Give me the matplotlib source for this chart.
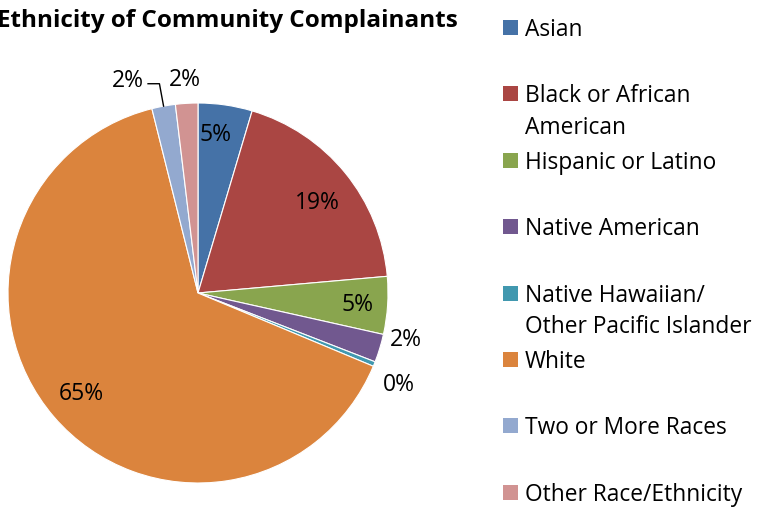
import matplotlib.pyplot as plt
import numpy as np
from matplotlib.patches import Rectangle

plt.rcParams['font.family'] = ['Open Sans', 'DejaVu Sans']

categories = ["Asian", "Black or African\nAmerican", "Hispanic or Latino",
              "Native American", "Native Hawaiian/\nOther Pacific Islander",
              "White", "Two or More Races", "Other Race/Ethnicity"]
shares = [4.6, 19.0, 4.9, 2.4, 0.4, 64.8, 2.0, 1.9]
pct_labels = ["5%", "19%", "5%", "2%", "0%", "65%", "2%", "2%"]
colors = ["#4572A7", "#AA4643", "#89A54E", "#71588F", "#4198AF",
          "#DB843D", "#93A9CF", "#D19392"]

# label distance from centre (in radii) and angular nudge (deg, clockwise)
label_dist = [0.84, 0.79, 0.84, 1.12, 1.16, 0.81, 1.21, 1.13]
label_nudge = [-2, 2, 0, -4.5, 2.5, 0, 0, 0]

W, H = 759, 510
fig = plt.figure(figsize=(W / 100, H / 100), dpi=100)

# pie: centre (198, 294) px, radius 190 px
cx, cy, r = 198, 294, 190
ax = fig.add_axes([(cx - r) / W, (H - cy - r) / H, 2 * r / W, 2 * r / H])
wedges, _ = ax.pie(shares, colors=colors, startangle=90, counterclock=False,
                   wedgeprops=dict(edgecolor="white", linewidth=0.8))
ax.set_xlim(-1, 1)
ax.set_ylim(-1, 1)
ax.set_aspect("equal")
ax.axis("off")

for i, w in enumerate(wedges):
    ang = np.deg2rad((w.theta1 + w.theta2) / 2 - label_nudge[i])
    d = label_dist[i]
    x, y = d * np.cos(ang), d * np.sin(ang)
    if i == 6:
        # leader line for the small "Two or More Races" slice
        ex, ey = np.cos(ang), np.sin(ang)
        bx, by = ex * 1.12, ey * 1.12
        ax.plot([ex, bx, bx - 0.06], [ey, by, by], color="black", lw=1,
                clip_on=False)
        ax.text(bx - 0.08, by + 0.02, pct_labels[i], ha="right", va="center",
                fontsize=16.5, clip_on=False)
    else:
        ax.text(x, y, pct_labels[i], ha="center", va="center",
                fontsize=16.5, clip_on=False)

# overlay in pixel coordinates for title and legend
ov = fig.add_axes([0, 0, 1, 1])
ov.set_xlim(0, W)
ov.set_ylim(H, 0)
ov.axis("off")
ov.patch.set_alpha(0)

ov.text(-3, 27, "Ethnicity of Community Complainants", fontsize=17.5,
        fontweight="bold", ha="left", va="baseline")

for i, (lab, c) in enumerate(zip(categories, colors)):
    yb = 36 + i * 66.4
    ov.add_patch(Rectangle((503, yb - 15), 15, 15, facecolor=c,
                           edgecolor="none"))
    for k, line in enumerate(lab.split("\n")):
        ov.text(525, yb + 31.5 * k, line, fontsize=16.4, ha="left",
                va="baseline")

fig.savefig("out.png", dpi=100)
